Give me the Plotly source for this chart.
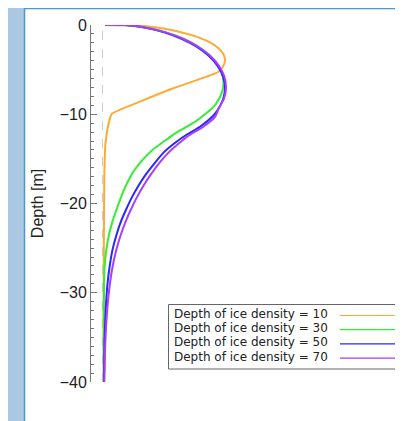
import plotly.graph_objects as go

# Depth profiles (depth in m, value in arbitrary units)
depth_10 = [0, -0.02, -0.13, -0.43, -0.83, -1.33, -1.90, -2.54, -3.22, -3.92, -4.63, -5.30,
            -5.79, -7.09, -8.59, -9.97, -11.2, -13.2, -15.0, -17.0, -20.0, -28.0, -40.0]
value_10 = [0.025, 0.23, 0.435, 0.625, 0.795, 0.945, 1.065, 1.153, 1.207, 1.225, 1.207, 1.153,
            1.042, 0.708, 0.375, 0.092, 0.058, 0.030, 0.022, 0.018, 0.016, 0.012, 0.012]

depth_30 = [0, -0.03, -0.29, -0.77, -1.43, -2.25, -3.19, -4.24, -5.36, -6.50, -7.64, -8.76,
            -9.30, -9.85, -10.45, -11.2, -12.2, -13.0, -14.0, -15.0, -16.25, -17.5, -19.0,
            -20.7, -22.0, -23.5, -25.2, -27.0, -29.0, -32.0, -40.0]
value_30 = [0.025, 0.23, 0.43, 0.618, 0.787, 0.933, 1.051, 1.139, 1.192, 1.21, 1.192, 1.139,
            1.10, 1.04, 0.975, 0.875, 0.72, 0.62, 0.50, 0.41, 0.32, 0.255, 0.195,
            0.14, 0.10, 0.065, 0.038, 0.022, 0.015, 0.012, 0.012]

depth_50 = [0, -0.01, -0.32, -0.85, -1.57, -2.45, -3.47, -4.61, -5.82, -7.06, -8.29, -9.51,
            -10.2, -11.4, -12.3, -13.25, -14.3, -15.5, -16.8, -18.1, -19.4, -20.7, -22.0,
            -23.5, -25.2, -27.0, -29.0, -31.9, -35.6, -40.0]
value_50 = [0.025, 0.233, 0.435, 0.625, 0.795, 0.945, 1.065, 1.153, 1.207, 1.225, 1.207, 1.153,
            1.105, 0.975, 0.84, 0.72, 0.61, 0.52, 0.43, 0.355, 0.29, 0.235, 0.185,
            0.14, 0.10, 0.072, 0.05, 0.032, 0.02, 0.015]

depth_70 = [0, -0.01, -0.31, -0.83, -1.54, -2.41, -3.42, -4.54, -5.73, -6.95, -8.18, -9.36,
            -10.3, -11.43, -12.3, -13.25, -14.3, -15.5, -16.8, -18.1, -19.4, -20.7, -22.0,
            -23.5, -25.2, -27.0, -29.0, -31.9, -35.6, -40.0]
value_70 = [0.025, 0.23, 0.439, 0.63, 0.803, 0.952, 1.073, 1.162, 1.217, 1.235, 1.217, 1.162,
            1.125, 1.005, 0.875, 0.765, 0.66, 0.565, 0.48, 0.405, 0.34, 0.283, 0.232,
            0.183, 0.138, 0.102, 0.074, 0.047, 0.028, 0.018]

series_names = ["Depth of ice density = 10", "Depth of ice density = 30",
                "Depth of ice density = 50", "Depth of ice density = 70"]
series_colors = ["#FFAA33", "#33EE33", "#2828FF", "#AA3CFF"]
series_x = [value_10, value_30, value_50, value_70]
series_y = [depth_10, depth_30, depth_50, depth_70]

y_ticks = [0, -10, -20, -30, -40]

fig = go.Figure()
for name, col, xs, ys in zip(series_names, series_colors, series_x, series_y):
    fig.add_trace(go.Scatter(x=xs, y=ys, mode="lines", name=name, showlegend=False,
                             line=dict(color=col, width=2, shape="spline", smoothing=0.5)))

# reference-pixel helpers (plot area spans x 91..403, y 25..382 on the page)
def px2x(px):
    return (px - 91) / 312.0

def py2y(py):
    return (382 - py) / 357.0

shapes = [
    # white panel
    dict(type="rect", xref="paper", yref="paper", x0=px2x(24.5), x1=px2x(420), y0=py2y(440), y1=py2y(8.5),
         fillcolor="white", line=dict(color="#4F97C9", width=1.5), layer="below"),
    # dashed zero line
    dict(type="line", xref="x", yref="y", x0=0, x1=0, y0=-40, y1=0,
         line=dict(color="#CCCCCC", width=1, dash="dash"), layer="below"),
    # legend box
    dict(type="rect", xref="paper", yref="paper", x0=px2x(168.5), x1=px2x(402.5), y0=py2y(369), y1=py2y(304.5),
         fillcolor="white", line=dict(color="#666666", width=1), layer="above"),
]
annotations = []
text_y = [314, 328.2, 342.4, 356.6]
for name, col, ty in zip(series_names, series_colors, text_y):
    annotations.append(dict(xref="paper", yref="paper", x=px2x(172.5), y=py2y(ty), text=name,
                            showarrow=False, xanchor="left", yanchor="middle", borderpad=0,
                            font=dict(family="DejaVu Sans, sans-serif", size=12, color="#222222")))
    shapes.append(dict(type="line", xref="paper", yref="paper", x0=px2x(340), x1=px2x(397),
                       y0=py2y(ty + 1.5), y1=py2y(ty + 1.5), line=dict(color=col, width=1.2), layer="above"))

fig.update_layout(
    width=395, height=413,
    margin=dict(l=83, r=0, t=17, b=39, autoexpand=False),
    paper_bgcolor="#AAC8E1",
    plot_bgcolor="rgba(0,0,0,0)",
    shapes=shapes,
    annotations=annotations,
    showlegend=False,
    xaxis=dict(visible=False, range=[-0.115, 3.005], showgrid=False, zeroline=False),
    yaxis=dict(
        range=[-40, 0], tickvals=y_ticks, ticktext=[("\u2212" + str(-t)) if t < 0 else str(t) for t in y_ticks],
        showgrid=False, zeroline=False, showline=True, linecolor="#777777", linewidth=1,
        ticks="inside", ticklen=6, tickcolor="#777777", tickwidth=1,
        minor=dict(dtick=1, tick0=0, ticks="inside", ticklen=3, tickcolor="#777777", tickwidth=1, showgrid=False),
        tickfont=dict(family="Liberation Sans, Arial, sans-serif", size=16, color="#222222"),
        title=dict(text="Depth [m]", standoff=12,
                   font=dict(family="Liberation Sans, Arial, sans-serif", size=16, color="#222222")),
    ),
)

fig.write_html("out.html")
